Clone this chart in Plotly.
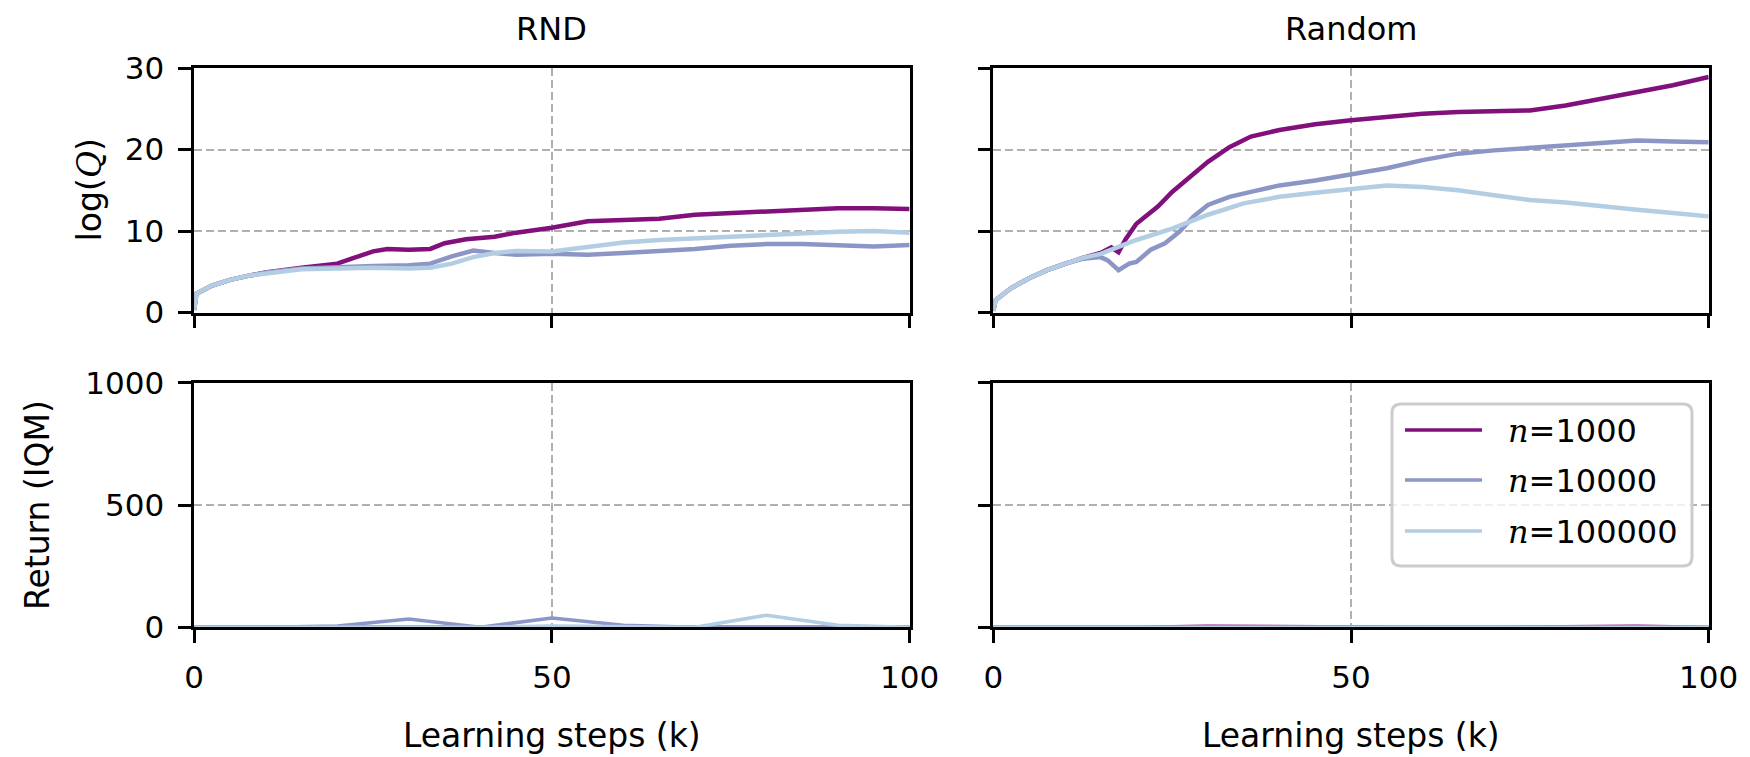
import plotly.graph_objects as go

# ---------------- data ----------------
series_labels = ["=1000", "=10000", "=100000"]
colors = ["#810f7c", "#8c96c6", "#b3cde3"]

# RND, log(Q)
rnd_1000_x = [0, 0.3, 2.5, 5, 7.5, 10, 15, 20, 22, 25, 27, 30, 33, 35, 38, 42, 45, 50, 55, 60, 65, 70, 75, 80, 85, 90, 95, 100]
rnd_1000_y = [0.3, 2.3, 3.3, 4.0, 4.5, 4.9, 5.5, 6.0, 6.6, 7.5, 7.8, 7.7, 7.8, 8.5, 9.0, 9.3, 9.8, 10.4, 11.2, 11.3, 11.5, 12.0, 12.2, 12.4, 12.65, 12.8, 12.8, 12.7]
rnd_10000_x = [0, 0.3, 2.5, 5, 7.5, 10, 15, 20, 25, 30, 33, 36, 39, 42, 45, 50, 55, 60, 65, 70, 75, 80, 85, 90, 95, 100]
rnd_10000_y = [0.3, 2.3, 3.3, 4.0, 4.5, 4.9, 5.4, 5.6, 5.7, 5.8, 6.0, 6.9, 7.6, 7.3, 7.1, 7.2, 7.1, 7.3, 7.5, 7.8, 8.2, 8.4, 8.4, 8.3, 8.1, 8.3]
rnd_100000_x = [0, 0.3, 2.5, 5, 7.5, 10, 15, 20, 25, 30, 33, 36, 39, 42, 45, 50, 55, 60, 65, 70, 75, 80, 85, 90, 95, 100]
rnd_100000_y = [0.3, 2.3, 3.3, 4.0, 4.5, 4.8, 5.3, 5.4, 5.5, 5.4, 5.5, 6.0, 6.8, 7.3, 7.55, 7.5, 8.0, 8.6, 8.9, 9.1, 9.4, 9.6, 9.8, 9.9, 10.0, 9.8]

# Random, log(Q)
rand_1000_x = [0, 0.3, 2.5, 5, 7.5, 10, 12.5, 15, 16.5, 17.5, 18.5, 20, 23, 25, 28, 30, 33, 36, 40, 45, 50, 55, 60, 65, 70, 75, 80, 85, 90, 95, 100]
rand_1000_y = [0.2, 1.5, 3.0, 4.2, 5.2, 6.0, 6.7, 7.3, 8.0, 7.4, 9.0, 10.9, 13.0, 14.8, 17.1, 18.5, 20.3, 21.6, 22.4, 23.1, 23.6, 24.0, 24.4, 24.6, 24.7, 24.8, 25.4, 26.2, 27.1, 27.9, 28.9]
rand_10000_x = [0, 0.3, 2.5, 5, 7.5, 10, 12.5, 15, 16, 17.5, 19, 20, 22, 24, 26, 28, 30, 33, 36, 40, 45, 50, 55, 60, 65, 70, 75, 80, 85, 90, 95, 100]
rand_10000_y = [0.2, 1.5, 3.0, 4.2, 5.2, 6.0, 6.6, 6.8, 6.4, 5.2, 6.0, 6.2, 7.7, 8.5, 9.9, 11.8, 13.2, 14.2, 14.8, 15.6, 16.2, 16.9, 17.7, 18.7, 19.5, 19.9, 20.2, 20.6, 20.9, 21.1, 21.0, 20.9]
rand_100000_x = [0, 0.3, 2.5, 5, 7.5, 10, 12.5, 15, 17.5, 20, 25, 30, 35, 40, 45, 50, 55, 60, 65, 70, 75, 80, 85, 90, 95, 100]
rand_100000_y = [0.2, 1.5, 3.0, 4.2, 5.2, 6.0, 6.7, 7.2, 8.1, 8.9, 10.3, 12.0, 13.4, 14.2, 14.7, 15.2, 15.6, 15.4, 15.0, 14.4, 13.8, 13.5, 13.0, 12.6, 12.2, 11.8]

# Returns (IQM), evaluated every 10k steps
eval_steps = [0, 10, 20, 30, 40, 50, 60, 70, 80, 90, 100]
rnd_ret_1000 = [0, 0, 0, 0, 0, 0, 0, 0, 0, 0, 0]
rnd_ret_10000 = [0, 0, 5, 34, 0, 38, 8, 0, 0, 0, 0]
rnd_ret_100000 = [0, 0, 0, 0, 0, 5, 3, 0, 49, 8, 0]
rand_ret_1000 = [0, 0, 0, 4, 2, 0, 0, 0, 3, 4, 0]
rand_ret_10000 = [0, 0, 0, 0, 0, 0, 0, 0, 0, 0, 0]
rand_ret_100000 = [0, 0, 0, 0, 0, 0, 0, 0, 0, 0, 0]

panel_titles = ["RND", "Random"]
x_ticks = [0, 50, 100]
q_ticks = [0, 10, 20, 30]
ret_ticks = [0, 500, 1000]

# ---------------- figure ----------------
W, H = 1750, 757
OFF = 8  # page body margin of the browser
FONT = "DejaVu Sans, sans-serif"
SERIF = "DejaVu Serif"
FS_TICK = 31
FS_LAB = 33
FS_TITLE = 32

def px(x):
    return (x - OFF) / W

def py(y):
    return 1 - (y - OFF) / H

def ital(s):
    return "<span style='font-family:%s'><i>%s</i></span>" % (SERIF, s)

fig = go.Figure()

top_data = [
    [(rnd_1000_x, rnd_1000_y), (rnd_10000_x, rnd_10000_y), (rnd_100000_x, rnd_100000_y)],
    [(rand_1000_x, rand_1000_y), (rand_10000_x, rand_10000_y), (rand_100000_x, rand_100000_y)],
]
bot_data = [
    [rnd_ret_1000, rnd_ret_10000, rnd_ret_100000],
    [rand_ret_1000, rand_ret_10000, rand_ret_100000],
]
axis_ids = [("x", "y"), ("x2", "y2"), ("x3", "y3"), ("x4", "y4")]

for p in range(2):
    xa, ya = axis_ids[p]
    for i in range(3):
        xs, ys = top_data[p][i]
        fig.add_trace(go.Scatter(x=xs, y=ys, mode="lines", xaxis=xa, yaxis=ya,
                                 line=dict(color=colors[i], width=4.5),
                                 name="n" + series_labels[i], showlegend=False))
for p in range(2):
    xa, ya = axis_ids[p + 2]
    for i in range(3):
        fig.add_trace(go.Scatter(x=eval_steps, y=bot_data[p][i], mode="lines",
                                 xaxis=xa, yaxis=ya,
                                 line=dict(color=colors[i], width=3.5),
                                 name="n" + series_labels[i], showlegend=False))

left_dom = [px(194.2), px(909.6)]
right_dom = [px(993.3), px(1708.7)]
top_dom = [py(312.5), py(68.1)]
bot_dom = [py(627.2), py(382.8)]

common = dict(showline=True, linecolor="black", linewidth=2.5, mirror=True,
              ticks="outside", ticklen=13, tickwidth=2.5, tickcolor="black",
              showgrid=True, gridcolor="#b0b0b0", griddash="8px,4px", gridwidth=1.5,
              zeroline=False, automargin=False, ticklabelstandoff=8,
              tickfont=dict(family=FONT, size=FS_TICK, color="black"))

def xax(dom, anchor, labels):
    return dict(common, domain=dom, anchor=anchor, range=[0, 100],
                tickvals=x_ticks, showticklabels=labels)

def yax(dom, anchor, rng, ticks, labels):
    return dict(common, domain=dom, anchor=anchor, range=rng,
                tickvals=ticks, showticklabels=labels)

fig.update_layout(
    width=W, height=H,
    margin=dict(l=0, r=0, t=0, b=0),
    paper_bgcolor="white", plot_bgcolor="white",
    font=dict(family=FONT, size=FS_TICK, color="black"),
    showlegend=False,
    xaxis=xax(left_dom, "y", False),
    yaxis=yax(top_dom, "x", [0, 30], q_ticks, True),
    xaxis2=xax(right_dom, "y2", False),
    yaxis2=yax(top_dom, "x2", [0, 30], q_ticks, False),
    xaxis3=xax(left_dom, "y3", True),
    yaxis3=yax(bot_dom, "x3", [0, 1000], ret_ticks, True),
    xaxis4=xax(right_dom, "y4", True),
    yaxis4=yax(bot_dom, "x4", [0, 1000], ret_ticks, False),
)

ann = []
shapes = []
for p, dom in enumerate([left_dom, right_dom]):
    cx = (dom[0] + dom[1]) / 2
    ann.append(dict(text=panel_titles[p], x=cx, y=1.0, xref="paper", yref="paper",
                    showarrow=False, xanchor="center", yanchor="top",
                    borderpad=0, yshift=-1,
                    font=dict(family=FONT, size=FS_TITLE, color="black")))
    ann.append(dict(text="Learning steps (k)", x=cx, y=py(735), xref="paper", yref="paper",
                    showarrow=False, xanchor="center", yanchor="middle",
                    font=dict(family=FONT, size=FS_LAB, color="black")))
ann.append(dict(text="log(" + ital("Q") + ")", x=px(89), y=(top_dom[0] + top_dom[1]) / 2,
                xref="paper", yref="paper", showarrow=False, textangle=-90,
                xanchor="center", yanchor="middle",
                font=dict(family=FONT, size=FS_LAB, color="black")))
ann.append(dict(text="Return (IQM)", x=px(37), y=(bot_dom[0] + bot_dom[1]) / 2,
                xref="paper", yref="paper", showarrow=False, textangle=-90,
                xanchor="center", yanchor="middle",
                font=dict(family=FONT, size=FS_LAB, color="black")))

# legend (drawn in the lower-right panel)
bx0, bx1, by0, by1, r = 1392, 1692, 404, 566, 9
X0, X1, Y0, Y1 = px(bx0), px(bx1), py(by0), py(by1)
rx, ry = r / W, r / H
path = (f"M{X0+rx},{Y0} L{X1-rx},{Y0} Q{X1},{Y0} {X1},{Y0-ry} "
        f"L{X1},{Y1+ry} Q{X1},{Y1} {X1-rx},{Y1} L{X0+rx},{Y1} "
        f"Q{X0},{Y1} {X0},{Y1+ry} L{X0},{Y0-ry} Q{X0},{Y0} {X0+rx},{Y0} Z")
shapes.append(dict(type="path", path=path, xref="paper", yref="paper",
                   fillcolor="rgba(255,255,255,0.8)", line=dict(color="#cccccc", width=3),
                   layer="above"))
rows = [430, 480, 531]
for i in range(3):
    shapes.append(dict(type="line", xref="paper", yref="paper",
                       x0=px(1405), x1=px(1482), y0=py(rows[i]), y1=py(rows[i]),
                       line=dict(color=colors[i], width=3.5), layer="above"))
    ann.append(dict(text=ital("n") + series_labels[i], x=px(1506), y=py(rows[i] + 1),
                    xref="paper", yref="paper", showarrow=False,
                    xanchor="left", yanchor="middle",
                    font=dict(family=FONT, size=FS_TICK + 1, color="black")))

fig.update_layout(annotations=ann, shapes=shapes)

fig.write_html("out.html")
